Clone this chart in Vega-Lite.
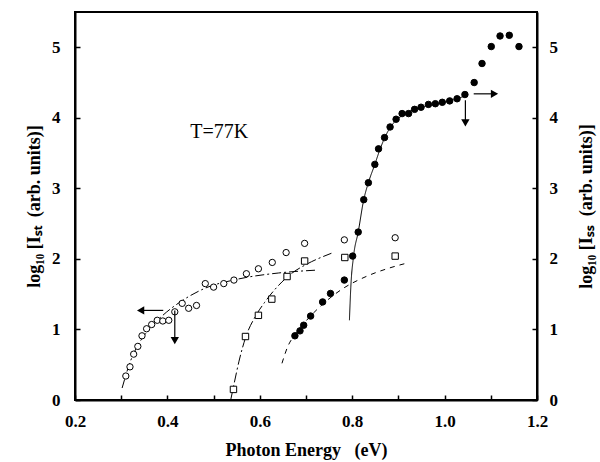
{
  "$schema": "https://vega.github.io/schema/vega-lite/v6.json",
  "width": 462,
  "height": 388,
  "autosize": {"type": "none"},
  "padding": {"left": 75, "top": 12, "right": 63, "bottom": 62},
  "background": "white",
  "config": {
    "view": {"stroke": "black", "strokeWidth": 2},
    "axis": {
      "domainColor": "black", "domainWidth": 2, "tickColor": "black", "tickWidth": 1.5,
      "grid": false, "labelFont": "Liberation Serif", "labelFontWeight": "bold", "labelFontSize": 17,
      "labelColor": "black", "titleFont": "Liberation Serif", "titleFontWeight": "bold",
      "titleFontSize": 18, "titleColor": "black"
    }
  },
  "datasets": {
    "pts": [
      {"E": 0.310, "L": 0.34, "s": "st"}, {"E": 0.319, "L": 0.47, "s": "st"}, {"E": 0.327, "L": 0.65, "s": "st"},
      {"E": 0.336, "L": 0.76, "s": "st"}, {"E": 0.345, "L": 0.91, "s": "st"}, {"E": 0.355, "L": 1.01, "s": "st"},
      {"E": 0.366, "L": 1.07, "s": "st"}, {"E": 0.378, "L": 1.13, "s": "st"}, {"E": 0.390, "L": 1.12, "s": "st"},
      {"E": 0.403, "L": 1.13, "s": "st"}, {"E": 0.416, "L": 1.25, "s": "st"}, {"E": 0.432, "L": 1.37, "s": "st"},
      {"E": 0.446, "L": 1.30, "s": "st"}, {"E": 0.463, "L": 1.34, "s": "st"}, {"E": 0.482, "L": 1.65, "s": "st"},
      {"E": 0.500, "L": 1.60, "s": "st"}, {"E": 0.522, "L": 1.65, "s": "st"}, {"E": 0.544, "L": 1.70, "s": "st"},
      {"E": 0.571, "L": 1.79, "s": "st"}, {"E": 0.597, "L": 1.86, "s": "st"}, {"E": 0.627, "L": 1.95, "s": "st"},
      {"E": 0.657, "L": 2.09, "s": "st"}, {"E": 0.697, "L": 2.22, "s": "st"}, {"E": 0.783, "L": 2.27, "s": "st"},
      {"E": 0.893, "L": 2.30, "s": "st"},
      {"E": 0.543, "L": 0.15, "s": "sq"}, {"E": 0.569, "L": 0.90, "s": "sq"}, {"E": 0.597, "L": 1.20, "s": "sq"},
      {"E": 0.626, "L": 1.43, "s": "sq"}, {"E": 0.659, "L": 1.75, "s": "sq"}, {"E": 0.697, "L": 1.97, "s": "sq"},
      {"E": 0.784, "L": 2.02, "s": "sq"}, {"E": 0.893, "L": 2.04, "s": "sq"},
      {"E": 0.676, "L": 0.91, "s": "cc"}, {"E": 0.687, "L": 0.98, "s": "cc"}, {"E": 0.695, "L": 1.06, "s": "cc"},
      {"E": 0.710, "L": 1.19, "s": "cc"}, {"E": 0.736, "L": 1.39, "s": "cc"}, {"E": 0.753, "L": 1.51, "s": "cc"},
      {"E": 0.783, "L": 1.70, "s": "cc"}, {"E": 0.801, "L": 2.04, "s": "cc"}, {"E": 0.813, "L": 2.38, "s": "cc"},
      {"E": 0.825, "L": 2.84, "s": "cc"}, {"E": 0.835, "L": 3.08, "s": "cc"}, {"E": 0.849, "L": 3.34, "s": "cc"},
      {"E": 0.857, "L": 3.56, "s": "cc"}, {"E": 0.870, "L": 3.72, "s": "cc"}, {"E": 0.882, "L": 3.87, "s": "cc"},
      {"E": 0.895, "L": 3.98, "s": "cc"}, {"E": 0.908, "L": 4.06, "s": "cc"}, {"E": 0.922, "L": 4.06, "s": "cc"},
      {"E": 0.935, "L": 4.12, "s": "cc"}, {"E": 0.949, "L": 4.15, "s": "cc"}, {"E": 0.965, "L": 4.19, "s": "cc"},
      {"E": 0.980, "L": 4.20, "s": "cc"}, {"E": 0.995, "L": 4.22, "s": "cc"}, {"E": 1.011, "L": 4.24, "s": "cc"},
      {"E": 1.027, "L": 4.27, "s": "cc"}, {"E": 1.044, "L": 4.33, "s": "cc"}, {"E": 1.064, "L": 4.50, "s": "cc"},
      {"E": 1.081, "L": 4.77, "s": "cc"}, {"E": 1.101, "L": 5.01, "s": "cc"}, {"E": 1.120, "L": 5.16, "s": "cc"},
      {"E": 1.140, "L": 5.17, "s": "cc"}, {"E": 1.161, "L": 5.01, "s": "cc"}
    ],
    "fits": [
      {"E": 0.302, "L": 0.17, "c": "A"}, {"E": 0.32, "L": 0.55, "c": "A"}, {"E": 0.34, "L": 0.82, "c": "A"},
      {"E": 0.36, "L": 1.0, "c": "A"}, {"E": 0.39, "L": 1.2, "c": "A"}, {"E": 0.43, "L": 1.4, "c": "A"},
      {"E": 0.48, "L": 1.58, "c": "A"}, {"E": 0.55, "L": 1.71, "c": "A"}, {"E": 0.64, "L": 1.8, "c": "A"},
      {"E": 0.72, "L": 1.84, "c": "A"},
      {"E": 0.537, "L": 0.0, "c": "B"}, {"E": 0.545, "L": 0.25, "c": "B"}, {"E": 0.555, "L": 0.55, "c": "B"},
      {"E": 0.57, "L": 0.9, "c": "B"}, {"E": 0.59, "L": 1.18, "c": "B"}, {"E": 0.61, "L": 1.38, "c": "B"},
      {"E": 0.64, "L": 1.62, "c": "B"}, {"E": 0.67, "L": 1.8, "c": "B"}, {"E": 0.70, "L": 1.92, "c": "B"},
      {"E": 0.755, "L": 2.08, "c": "B"},
      {"E": 0.794, "L": 1.13, "c": "C"}, {"E": 0.797, "L": 1.6, "c": "C"}, {"E": 0.803, "L": 2.04, "c": "C"},
      {"E": 0.813, "L": 2.38, "c": "C"}, {"E": 0.825, "L": 2.84, "c": "C"}, {"E": 0.835, "L": 3.08, "c": "C"},
      {"E": 0.849, "L": 3.34, "c": "C"}, {"E": 0.86, "L": 3.55, "c": "C"}, {"E": 0.875, "L": 3.78, "c": "C"},
      {"E": 0.89, "L": 3.93, "c": "C"}, {"E": 0.91, "L": 4.04, "c": "C"}, {"E": 0.95, "L": 4.15, "c": "C"},
      {"E": 1.0, "L": 4.22, "c": "C"}, {"E": 1.04, "L": 4.3, "c": "C"},
      {"E": 0.648, "L": 0.52, "c": "D"}, {"E": 0.66, "L": 0.75, "c": "D"}, {"E": 0.675, "L": 0.92, "c": "D"},
      {"E": 0.70, "L": 1.12, "c": "D"}, {"E": 0.74, "L": 1.38, "c": "D"}, {"E": 0.78, "L": 1.58, "c": "D"},
      {"E": 0.83, "L": 1.75, "c": "D"}, {"E": 0.88, "L": 1.87, "c": "D"}, {"E": 0.918, "L": 1.94, "c": "D"}
    ],
    "arrows": [
      {"E": 0.391, "E2": 0.345, "L": 1.27, "L2": 1.27},
      {"E": 0.416, "E2": 0.416, "L": 1.27, "L2": 0.85},
      {"E": 1.063, "E2": 1.105, "L": 4.34, "L2": 4.34},
      {"E": 1.045, "E2": 1.045, "L": 4.25, "L2": 3.95}
    ],
    "heads": [
      {"E": 0.342, "L": 1.27, "d": "left"},
      {"E": 0.416, "L": 0.84, "d": "down"},
      {"E": 1.108, "L": 4.34, "d": "right"},
      {"E": 1.045, "L": 3.93, "d": "down"}
    ],
    "labels": [{"E": 0.512, "L": 3.8, "t": "T=77K"}]
  },
  "layer": [
    {
      "data": {"name": "fits"},
      "mark": {"type": "line", "color": "black", "strokeWidth": 1, "interpolate": "monotone"},
      "encoding": {
        "x": {"field": "E", "type": "quantitative", "scale": {"domain": [0.2, 1.2], "nice": false},
          "axis": {"title": "Photon Energy\u00a0\u00a0\u00a0(eV)", "values": [0.2,0.3,0.4,0.5,0.6,0.7,0.8,0.9,1.0,1.1,1.2],
            "labelExpr": "(round(datum.value*10)%2==0) ? format(datum.value,'.1f') : ''",
            "tickSize": -5, "labelPadding": 18, "titlePadding": 12, "labelFlush": false, "labelOverlap": false}},
        "y": {"field": "L", "type": "quantitative", "scale": {"domain": [0, 5.5], "nice": false},
          "axis": {"title": "log₁₀ [Iₛₜ\u00a0\u00a0(arb. units)]", "values": [0,1,2,3,4,5], "tickSize": -5,
            "labelPadding": 20, "titlePadding": 8, "labelFlush": false}},
        "detail": {"field": "c"},
        "strokeDash": {"field": "c", "type": "nominal", "legend": null,
          "scale": {"domain": ["A","B","C","D"], "range": [[9,3,2,3],[10,3,2,3],[1,0],[5,5]]}}
      }
    },
    {
      "data": {"name": "pts"},
      "mark": {"type": "point", "filled": true, "stroke": "black", "strokeWidth": 1, "opacity": 1},
      "encoding": {
        "x": {"field": "E", "type": "quantitative"},
        "y": {"field": "L", "type": "quantitative",
          "axis": {"orient": "right", "title": "log₁₀ [Iₛₛ\u00a0\u00a0(arb. units)]", "titleAngle": 270, "values": [0,1,2,3,4,5],
            "tickSize": -5, "labelPadding": 17, "titlePadding": 38, "labelFlush": false}},
        "shape": {"field": "s", "type": "nominal", "legend": null,
          "scale": {"domain": ["st","sq","cc"], "range": ["circle","square","circle"]}},
        "fill": {"field": "s", "type": "nominal", "legend": null,
          "scale": {"domain": ["st","sq","cc"], "range": ["white","white","black"]}},
        "size": {"field": "s", "type": "nominal", "legend": null,
          "scale": {"domain": ["st","sq","cc"], "range": [40, 42, 46]}}
      }
    },
    {
      "data": {"name": "arrows"},
      "mark": {"type": "rule", "color": "black", "strokeWidth": 1.2},
      "encoding": {
        "x": {"field": "E", "type": "quantitative"}, "x2": {"field": "E2"},
        "y": {"field": "L", "type": "quantitative", "axis": null}, "y2": {"field": "L2"}
      }
    },
    {
      "data": {"name": "heads"},
      "mark": {"type": "point", "filled": true, "color": "black", "opacity": 1},
      "encoding": {
        "x": {"field": "E", "type": "quantitative"},
        "y": {"field": "L", "type": "quantitative", "axis": null},
        "shape": {"field": "d", "type": "nominal", "legend": null,
          "scale": {"domain": ["left","down","right"], "range": ["triangle-left","triangle-down","triangle-right"]}},
        "size": {"value": 70}
      }
    },
    {
      "data": {"name": "labels"},
      "mark": {"type": "text", "font": "Liberation Serif", "fontSize": 20, "color": "black"},
      "encoding": {
        "x": {"field": "E", "type": "quantitative"},
        "y": {"field": "L", "type": "quantitative", "axis": null},
        "text": {"field": "t"}
      }
    }
  ],
  "resolve": {"scale": {"y": "shared", "shape": "independent", "size": "independent", "fill": "independent"}, "axis": {"y": "independent"}}
}
